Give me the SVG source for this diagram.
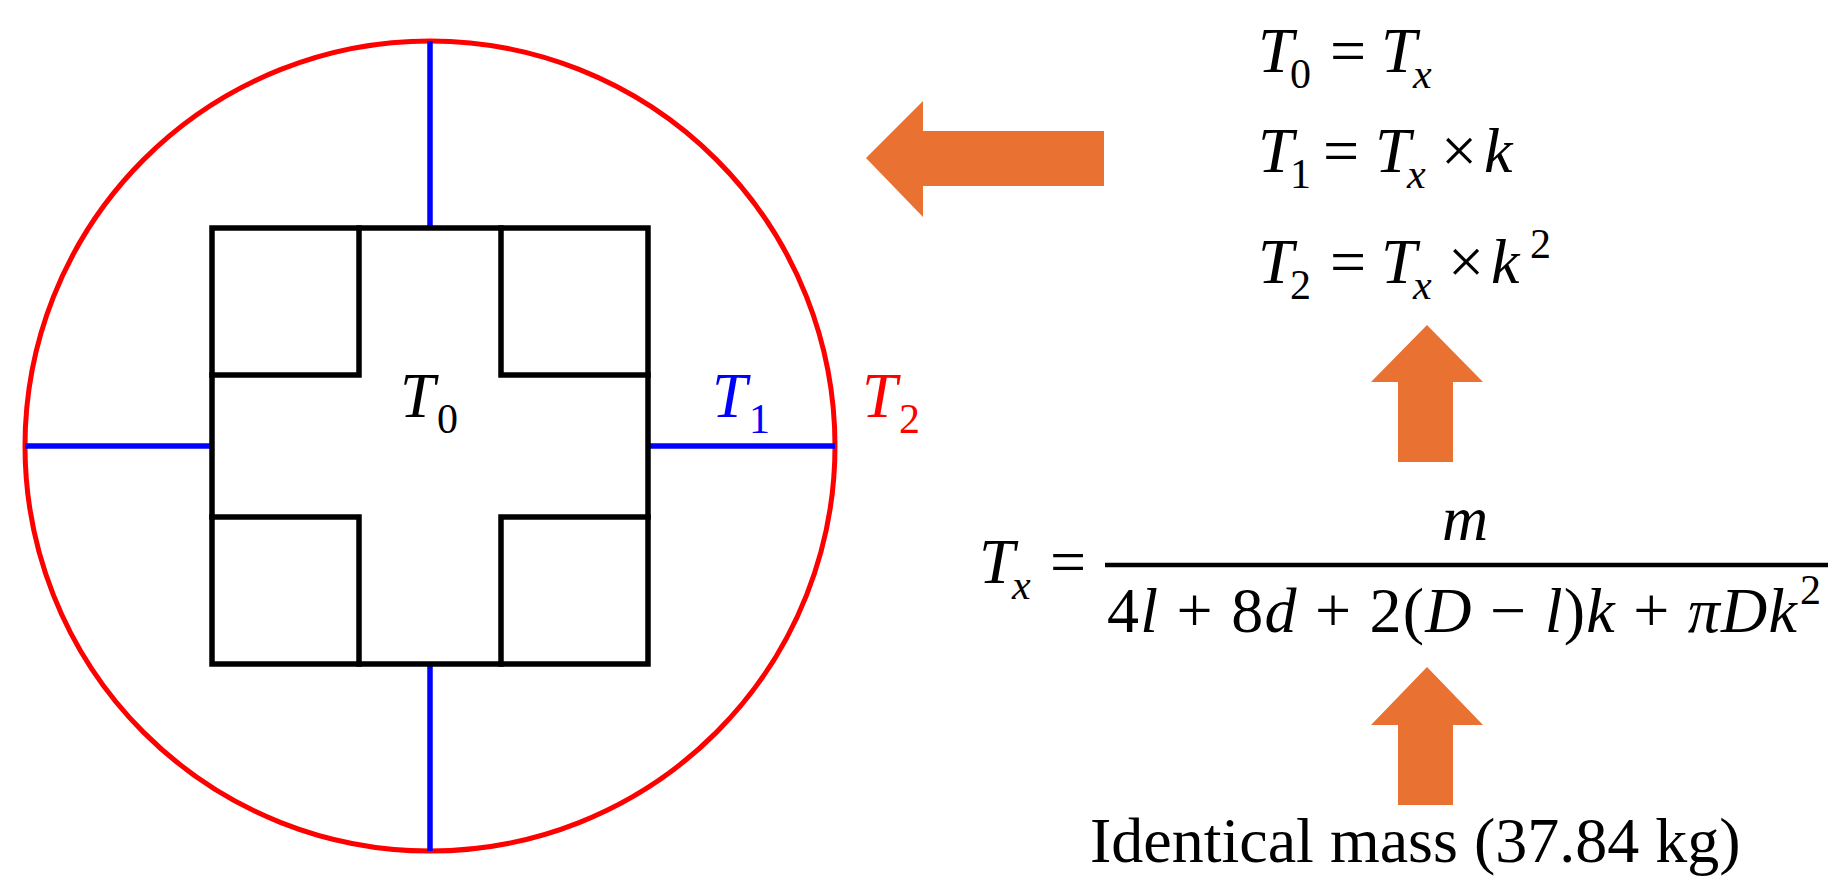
<svg xmlns="http://www.w3.org/2000/svg" width="1844" height="895" viewBox="0 0 1844 895">
<style>
.t{font-family:"Liberation Serif","Times New Roman",serif;font-size:64px;fill:#000}
.i{font-style:italic}
.s{font-size:42px}
.lbl{font-family:"Liberation Serif","Times New Roman",serif;font-size:63px}
.ls{font-size:42px}
.arrow{fill:#E97132}
.blk{fill:none;stroke:#000;stroke-width:5.5;stroke-linejoin:miter;stroke-linecap:square}
.blu{fill:none;stroke:#0000FF;stroke-width:5.5}
</style>
<rect width="1844" height="895" fill="#fff"/>
<g id="connectors">
  <polygon class="arrow" points="866,158 923,101 923,131 1104,131 1104,186 923,186 923,217"/>
  <polygon class="arrow" points="1427,325 1483,382 1453,382 1453,462 1398,462 1398,382 1371,382"/>
  <polygon class="arrow" points="1427,667 1483,725 1453,725 1453,805 1398,805 1398,725 1371,725"/>
</g>
<g id="cross-section">
  <circle cx="430" cy="446" r="405" fill="none" stroke="#FF0000" stroke-width="5"/>
  <path class="blu" d="M430,41 V228 M430,664 V851 M25,446 H212 M648,446 H835"/>
  <rect class="blk" x="212" y="228" width="436" height="436"/>
  <path class="blk" d="M212,375 H359 V228 M501,228 V375 H648 M212,517 H359 V664 M501,664 V517 H648"/>
  <text class="lbl" x="400" y="417"><tspan class="i">T</tspan><tspan class="ls" x="437" y="433">0</tspan></text>
  <text class="lbl" x="712" y="417" fill="#0000FF"><tspan class="i">T</tspan><tspan class="ls" x="749" y="433">1</tspan></text>
  <text class="lbl" x="862" y="417" fill="#FF0000"><tspan class="i">T</tspan><tspan class="ls" x="899" y="433">2</tspan></text>
</g>
<g id="equations-T">
  <text class="t" y="72"><tspan class="i" x="1258">T</tspan><tspan class="s" x="1290" y="88">0</tspan><tspan x="1330" y="72">=</tspan><tspan class="i" x="1381">T</tspan><tspan class="i s" x="1413" y="88">x</tspan></text>
  <text class="t" y="172"><tspan class="i" x="1258">T</tspan><tspan class="s" x="1290" y="188">1</tspan><tspan x="1323" y="172">=</tspan><tspan class="i" x="1375">T</tspan><tspan class="i s" x="1407" y="188">x</tspan><tspan x="1441" y="172">×</tspan><tspan class="i" x="1484">k</tspan></text>
  <text class="t" y="283"><tspan class="i" x="1258">T</tspan><tspan class="s" x="1290" y="299">2</tspan><tspan x="1330" y="283">=</tspan><tspan class="i" x="1381">T</tspan><tspan class="i s" x="1413" y="299">x</tspan><tspan x="1448" y="283">×</tspan><tspan class="i" x="1491">k</tspan><tspan class="s" x="1530" y="258">2</tspan></text>
</g>
<g id="equation-Tx">
  <text class="t" y="583"><tspan class="i" x="979">T</tspan><tspan class="i s" x="1012" y="599">x</tspan><tspan x="1050" y="583">=</tspan></text>
  <line x1="1105" y1="565" x2="1828" y2="565" stroke="#000" stroke-width="4.5"/>
  <text class="t i" x="1465" y="540" text-anchor="middle">m</text>
  <text class="t" x="1107" y="632" font-size="66" textLength="690" lengthAdjust="spacing">4<tspan class="i">l</tspan> + 8<tspan class="i">d</tspan> + 2(<tspan class="i">D</tspan> − <tspan class="i">l</tspan>)<tspan class="i">k</tspan> + <tspan class="i">πDk</tspan></text>
  <text class="t s" x="1800" y="604">2</text>
</g>
<g id="mass-label">
  <text class="t" x="1090" y="862" font-size="63">Identical mass (37.84 kg)</text>
</g>
</svg>
